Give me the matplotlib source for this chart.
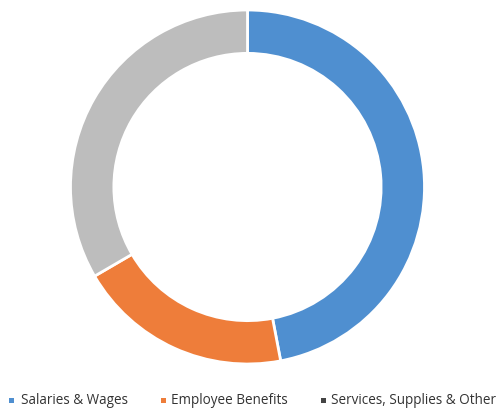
import matplotlib
matplotlib.use("Agg")
import matplotlib.pyplot as plt
from matplotlib.patches import Rectangle

categories = ["Salaries & Wages", "Employee Benefits", "Services, Supplies & Other"]
values = [47.0, 19.6, 33.4]
colors = ["#4F8FD0", "#EE7D3A", "#BDBDBD"]
legend_marker_colors = ["#4F8FD0", "#EE7D3A", "#444444"]

W, H = 499, 408
fig = plt.figure(figsize=(W / 100, H / 100), dpi=100)
cx, cy, r = 247.5, 187, 177
ax = fig.add_axes([(cx - r) / W, 1 - (cy + r) / H, 2 * r / W, 2 * r / H])
ax.pie(values, colors=colors, startangle=90, counterclock=False, radius=1.0,
       wedgeprops=dict(width=0.245, edgecolor="white", linewidth=2))
ax.set_xlim(-1, 1)
ax.set_ylim(-1, 1)
ax.set_aspect("auto")
ax.axis("off")

# legend drawn manually to match the reference spacing
marker_x = [11, 163, 323]
text_x = [21, 171, 331]
ly = 400
renderer = fig.canvas.get_renderer()
probe = fig.text(0, 0, categories[-1], fontsize=10, family="Open Sans")
fs = 10 * 165 / probe.get_window_extent(renderer).width
probe.remove()
for lab, mc, mx, tx in zip(categories, legend_marker_colors, marker_x, text_x):
    fig.add_artist(Rectangle(((mx - 2.5) / W, 1 - (ly + 2.5) / H), 5 / W, 5 / H,
                             transform=fig.transFigure, facecolor=mc, edgecolor="none"))
    fig.text(tx / W, 1 - ly / H, lab, fontsize=fs, family="Open Sans",
             color="#333333", ha="left", va="center")

fig.savefig("out.png", dpi=100)
